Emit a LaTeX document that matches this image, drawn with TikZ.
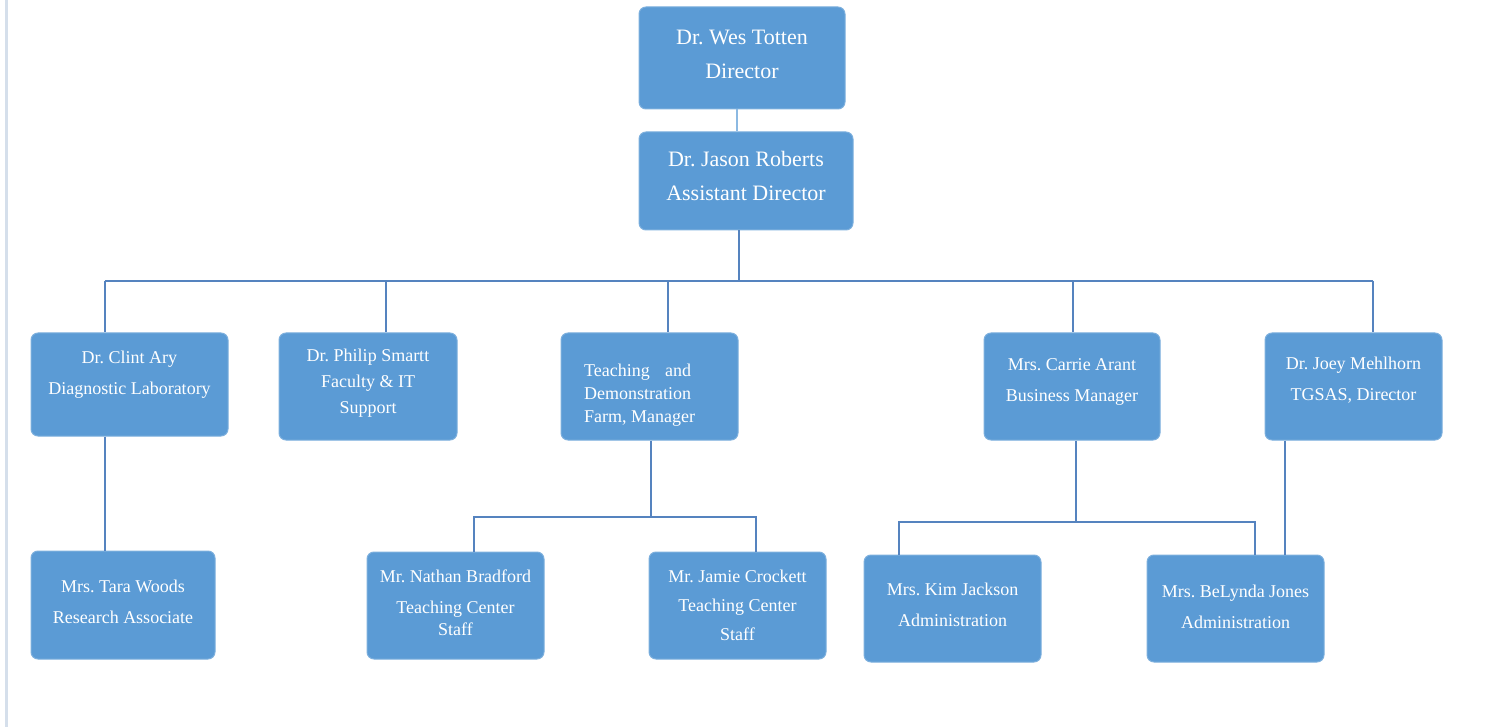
\documentclass[tikz,border=0pt]{standalone}
\usepackage{fontspec}
\setmainfont{Liberation Serif}
\usetikzlibrary{positioning,calc,backgrounds}
\definecolor{boxblue}{HTML}{5B9BD5}
\definecolor{lineblue}{HTML}{5583BF}
\definecolor{edgegray}{HTML}{D5DFEB}
\newlength\farmwd
\frenchspacing
\tikzset{
  orgbox/.style={draw=boxblue!80!white, fill=boxblue, rounded corners=7pt, inner sep=0pt, line width=1pt},
  txt/.style={text=white, align=center, inner sep=0pt, font=\fontsize{18}{31}\selectfont},
  bigtxt/.style={txt, font=\fontsize{22}{34}\selectfont},
  conn/.style={draw=lineblue, line width=1.5pt}
}

\begin{document}
\begin{tikzpicture}[x=1pt,y=-1pt]
\useasboundingbox (0,0) rectangle (1502,727);
\fill[edgegray] (5,0) rectangle (8,727);

% top
\node[orgbox, minimum width=206, minimum height=102,
  label={[bigtxt, yshift=4pt]center:{Dr. Wes Totten\\Director}}] (totten) at (742,58) {};
\node[orgbox, minimum width=214, minimum height=98,
  label={[bigtxt, yshift=5pt]center:{Dr. Jason Roberts\\Assistant Director}}] (roberts) at (746,181) {};

% middle row
\node[orgbox, minimum width=197, minimum height=103,
  label={[txt, yshift=10pt]center:{Dr. Clint Ary\\Diagnostic Laboratory}}] (ary) at (129.5,384.5) {};
\node[orgbox, minimum width=178, minimum height=107,
  label={[txt, yshift=3pt]center:{Dr. Philip Smartt\\[-5pt]Faculty \& IT\\[-5pt]Support}}] (smartt) at (368,386.5) {};
\node[orgbox, minimum width=177, minimum height=107,
  label={[txt, align=left, xshift=-10pt, yshift=-9pt]center:{\settowidth\farmwd{Demonstration}\makebox[\farmwd][s]{Teaching and}\\[-8pt]Demonstration\\[-8pt]Farm, Manager}}] (farm) at (649.5,386.5) {};
\node[orgbox, minimum width=176, minimum height=107,
  label={[txt, yshift=5pt]center:{Mrs. Carrie Arant\\Business Manager}}] (arant) at (1072,386.5) {};
\node[orgbox, minimum width=177, minimum height=107,
  label={[txt, yshift=6pt]center:{Dr. Joey Mehlhorn\\TGSAS, Director}}] (mehlhorn) at (1353.5,386.5) {};

% bottom row
\node[orgbox, minimum width=184, minimum height=108,
  label={[txt, yshift=3pt]center:{Mrs. Tara Woods\\Research Associate}}] (woods) at (123,605) {};
\node[orgbox, minimum width=177, minimum height=107,
  label={[txt, yshift=3pt]center:{Mr. Nathan Bradford\\Teaching Center\\[-9pt]Staff}}] (bradford) at (455.5,605.5) {};
\node[orgbox, minimum width=177, minimum height=107,
  label={[txt]center:{Mr. Jamie Crockett\\[-2pt]Teaching Center\\[-2pt]Staff}}] (crockett) at (737.5,605.5) {};
\node[orgbox, minimum width=177, minimum height=107,
  label={[txt, yshift=4pt]center:{Mrs. Kim Jackson\\Administration}}] (jackson) at (952.5,608.5) {};
\node[orgbox, minimum width=177, minimum height=107,
  label={[txt, yshift=2pt]center:{Mrs. BeLynda Jones\\Administration}}] (jones) at (1235.5,608.5) {};

% connectors
\draw[conn, draw=boxblue!70!white, line width=1.2pt] (totten.south -| 737,0) -- (roberts.north -| 737,0);
\coordinate (busL) at (105,281);
\coordinate (busR) at (1373,281);
\draw[conn] (roberts.south -| 739,0) -- (739,281);
\draw[conn] (busL) -- (busR);
\foreach \x/\n in {105/ary, 386/smartt, 668/farm, 1073/arant, 1373/mehlhorn}
  \draw[conn] (\x,281) -- (\n.north -| \x,0);

\draw[conn] (ary.south -| 105,0) -- (woods.north -| 105,0);

\coordinate (farmL) at (474,517);
\coordinate (farmR) at (756,517);
\draw[conn] (farm.south -| 651,0) -- (651,517);
\draw[conn] (bradford.north -| farmL) -- (farmL) -- (farmR) -- (crockett.north -| farmR);

\coordinate (arantL) at (899,522);
\coordinate (arantR) at (1255,522);
\draw[conn] (arant.south -| 1076,0) -- (1076,522);
\draw[conn] (jackson.north -| arantL) -- (arantL) -- (arantR) -- (jones.north -| arantR);

\draw[conn] (mehlhorn.south -| 1285,0) -- (jones.north -| 1285,0);
\end{tikzpicture}
\end{document}
